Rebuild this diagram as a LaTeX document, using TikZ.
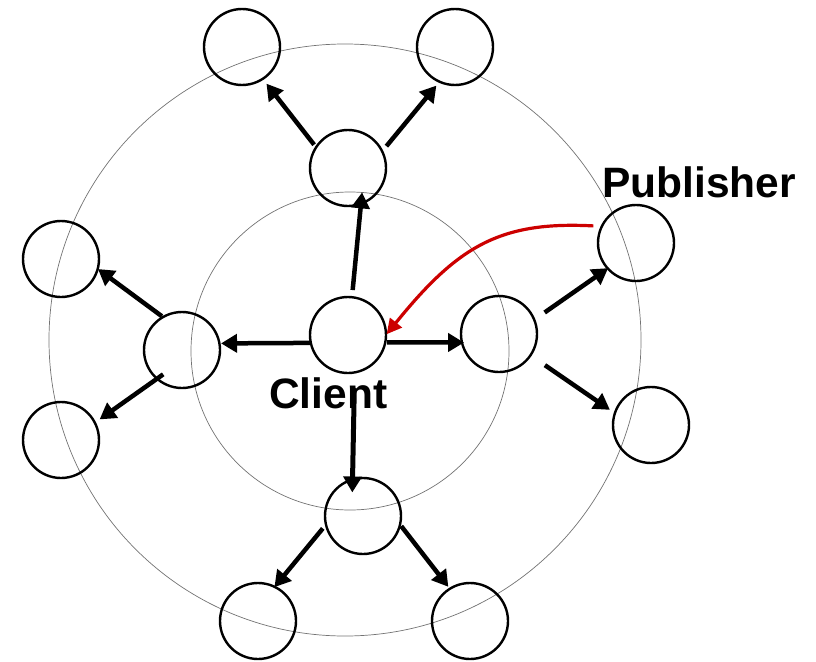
\documentclass[tikz,border=0pt]{standalone}
\usepackage{fontspec}
\setmainfont{Liberation Sans}
\usetikzlibrary{arrows.meta}
\definecolor{pubred}{RGB}{204,0,0}
\begin{document}
\begin{tikzpicture}[x=1pt,y=-1pt,
  ring/.style={draw=black!55,line width=0.7pt},
  peer/.style={circle,draw,line width=2.4pt,minimum size=76pt,inner sep=0pt,outer sep=0pt},
  flow/.style={line width=4.5pt,-{Triangle[length=16pt,width=18pt]}},
  gap/.style 2 args={shorten <=#1pt,shorten >=#2pt},
  pubflow/.style={draw=pubred,line width=3.2pt,-{Triangle[length=15pt,width=15pt]}},
  label/.style={anchor=base west,inner sep=0pt,font=\fontsize{42.5}{50}\selectfont\bfseries}]
\useasboundingbox (0,0) rectangle (816,661);

% propagation rings
\draw[ring] (345,340) circle[radius=296];
\draw[ring] (350,351) circle[radius=159];

% peers
\node[peer] (C)  at (348,335) {};
\node[peer] (T)  at (348,168) {};
\node[peer] (TL) at (242,47)  {};
\node[peer] (TR) at (455,47)  {};
\node[peer] (L)  at (182,350) {};
\node[peer] (LU) at (61,259)  {};
\node[peer] (LD) at (61,440)  {};
\node[peer] (R)  at (499,334) {};
\node[peer] (P)  at (636,243) {};
\node[peer] (RD) at (651,425) {};
\node[peer] (B)  at (363,516) {};
\node[peer] (BL) at (258,621) {};
\node[peer] (BR) at (470,621) {};

% forwarding
\draw[flow,gap={3.3}{6.1}]   (T.147.8) -- (TL.-57);
\draw[flow,gap={6.7}{5}]     (T.26.6)  -- (TR.-114.8);
\draw[flow,gap={7.2}{-11.4}] (C.84.9)  -- (T.-70.2);
\draw[flow,gap={0.8}{1.6}]   (C.-168)  -- (L.10.2);
\draw[flow,gap={1.8}{-2.1}]  (C.-11.6) -- (R.-167);
\draw[flow,line width=5pt,gap={15.8}{-13}] (C.-80.4) -- (B.106.3);
\draw[flow,gap={1.4}{0.3}]   (L.120.5) -- (LU.-15.1);
\draw[flow,gap={-7.5}{5.8}]  (L.-131)  -- (LD.27.1);
\draw[flow,gap={12.7}{-0.5}] (R.22)    -- (P.-138.2);
\draw[flow,gap={17.5}{6}]    (R.-34)   -- (RD.162.8);
\draw[flow,gap={5}{-0.4}]    (B.-167.9) -- (BL.64.8);
\draw[flow,gap={2}{2.5}]     (B.-13)   -- (BR.122.9);

% publisher to client
\draw[pubflow,gap={8.5}{1}] (P.154.5) .. controls (500,221) and (458,246) .. (C.0);

% labels
\node[label] (clientlabel) at (269,408) {Client};
\node[label] (publabel) at (602,197) {Publisher};
\end{tikzpicture}
\end{document}
